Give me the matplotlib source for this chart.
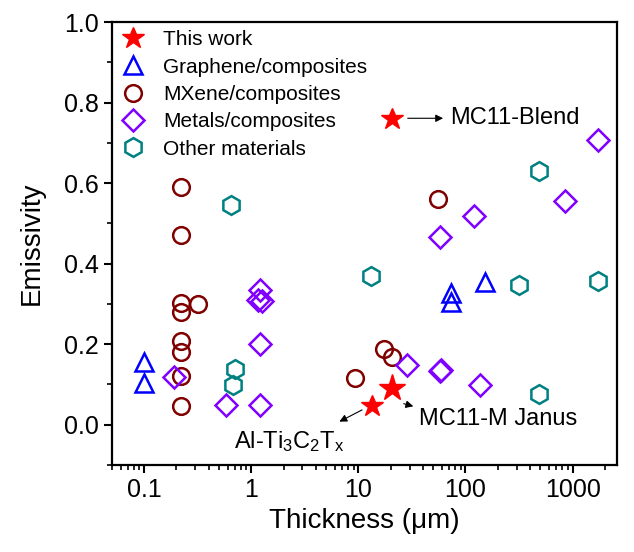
import numpy as np
import matplotlib
matplotlib.use("Agg")
import matplotlib.pyplot as plt
from matplotlib.ticker import LogLocator, MultipleLocator, FixedLocator, FixedFormatter, NullFormatter

plt.rcParams['font.family'] = ['Liberation Sans', 'DejaVu Sans']
plt.rcParams['mathtext.fontset'] = 'custom'
plt.rcParams['mathtext.rm'] = 'Liberation Sans'
plt.rcParams['mathtext.it'] = 'Liberation Sans:italic'

# --- data ---
work_x = [13.5, 20.5]
work_y = [0.046, 0.09]
blend_x = [20.5]
blend_y = [0.76]

graphene_x = [0.1, 0.1, 74, 74, 153]
graphene_y = [0.155, 0.104, 0.326, 0.305, 0.354]

mxene_x = [0.22, 0.22, 0.22, 0.22, 0.22, 0.22, 0.22, 0.22, 0.32, 9.3, 17.5, 20.8, 55]
mxene_y = [0.59, 0.47, 0.302, 0.279, 0.209, 0.18, 0.12, 0.047, 0.30, 0.117, 0.189, 0.168, 0.56]

metal_x = [0.19, 0.58, 1.2, 1.2, 1.2, 1.15, 1.27, 28.3, 57.7, 59.6, 57.7, 120, 138, 857, 1740]
metal_y = [0.119, 0.048, 0.048, 0.20, 0.334, 0.309, 0.307, 0.149, 0.133, 0.137, 0.466, 0.518, 0.098, 0.555, 0.708]

other_x = [0.65, 0.70, 0.67, 13.1, 315, 484, 484, 1713]
other_y = [0.546, 0.139, 0.098, 0.369, 0.348, 0.629, 0.077, 0.357]

fig = plt.figure(figsize=(6.34, 5.52), dpi=100)
ax = fig.add_axes([0.1767, 0.1576, 0.7965, 0.8025])

mw = 1.8
ax.plot(work_x[:1], work_y[:1], '*', color='#ff0000', ms=16.4, mec='#ff0000', label='This work', zorder=5)
ax.plot(work_x[1:], work_y[1:], '*', color='#ff0000', ms=20.4, mec='#ff0000', zorder=5)
ax.plot(blend_x, blend_y, '*', color='#ff0000', ms=16.4, mec='#ff0000', zorder=5)
ax.plot(graphene_x, graphene_y, '^', ms=13, mfc='none', mec='#0000ff', mew=mw,
        ls='none', label='Graphene/composites')
ax.plot(mxene_x, mxene_y, 'o', ms=12, mfc='none', mec='#800000', mew=mw,
        ls='none', label='MXene/composites')
ax.plot(metal_x, metal_y, 'D', ms=11, mfc='none', mec='#8000ff', mew=mw,
        ls='none', label='Metals/composites')
ax.plot(other_x, other_y, 'h', ms=13.5, mfc='none', mec='#008080', mew=mw,
        ls='none', label='Other materials')

# annotations
arw = dict(arrowstyle='-|>', color='black', lw=0.8, mutation_scale=11)
ax.annotate('', xy=(65.6, 0.761), xytext=(27.2, 0.761), arrowprops=arw)
ax.text(71.3, 0.761, 'MC11-Blend', fontsize=17, va='center', ha='left')
ax.annotate('', xy=(34.5, 0.044), xytext=(25, 0.054), arrowprops=arw)
ax.text(36.7, 0.014, 'MC11-M Janus', fontsize=17, va='center', ha='left')
ax.annotate('', xy=(6.3, 0.0045), xytext=(11.4, 0.040), arrowprops=arw)
ax.text(2.27, -0.042, r'Al-Ti$_3$C$_2$T$_\mathrm{x}$', fontsize=17, va='center', ha='center')

ax.set_xscale('log')
ax.set_xlim(0.05, 2600)
ax.set_ylim(-0.1, 1.0)

x_ticks = [0.1, 1, 10, 100, 1000]
x_labels = ['0.1', '1', '10', '100', '1000']
ax.xaxis.set_major_locator(FixedLocator(x_ticks))
ax.xaxis.set_major_formatter(FixedFormatter(x_labels))
ax.xaxis.set_minor_locator(LogLocator(base=10, subs=np.arange(2, 10), numticks=20))
ax.xaxis.set_minor_formatter(NullFormatter())
ax.yaxis.set_minor_locator(MultipleLocator(0.1))
ax.set_yticks([0.0, 0.2, 0.4, 0.6, 0.8, 1.0])
ax.set_yticklabels(['0.0', '0.2', '0.4', '0.6', '0.8', '1.0'])

ax.tick_params(which='major', direction='out', length=6, width=1.5, labelsize=18)
ax.tick_params(which='minor', direction='out', length=3.5, width=1.2)
for s in ax.spines.values():
    s.set_linewidth(1.6)

ax.set_xlabel('Thickness (\u03bcm)', fontsize=20, labelpad=4)
ax.set_ylabel('Emissivity', fontsize=20, labelpad=14)

ax.legend(loc='upper left', frameon=False, fontsize=15, handletextpad=0.85,
          labelspacing=0.4, borderaxespad=0.1, handlelength=1.2, borderpad=0.3)

fig.savefig('out.png', dpi=100)
